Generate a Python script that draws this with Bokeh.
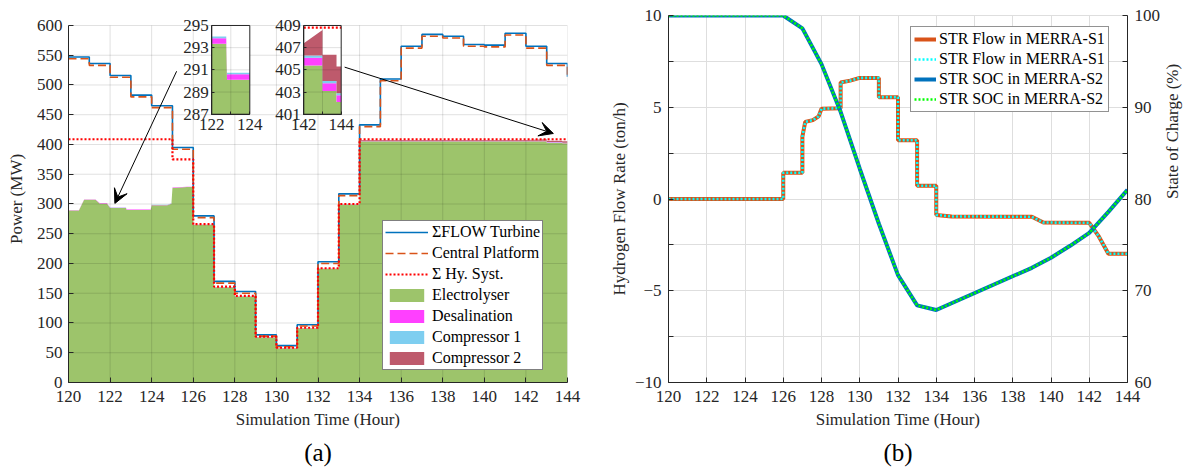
import math
import numpy as np
from bokeh.plotting import figure
from bokeh.models import (Range1d, LinearAxis, FixedTicker, Legend, LegendItem,
                          Arrow, VeeHead, Title)
from bokeh.layouts import row
from bokeh.embed import file_html
from bokeh.resources import INLINE

# ---------------- data : panel (a) ----------------
step_hours = [120, 121, 122, 123, 124, 125, 126, 127, 128, 129, 130, 131, 132,
              133, 134, 135, 136, 137, 138, 139, 140, 141, 142, 143, 144]
flow_turbine = [547, 536, 516, 483, 465, 395, 280, 170, 153, 80, 62, 97, 203,
                317, 433, 510, 565, 585, 582, 568, 567, 587, 565, 536, 514]
central_platform = [544, 533, 513, 480, 462, 392, 277, 167, 150, 78, 60, 95, 200,
                    314, 430, 507, 562, 582, 579, 565, 564, 584, 562, 533, 511]
hy_syst = [408.8, 408.8, 408.8, 408.8, 408.8, 375, 266, 161, 145.5, 77, 58.5, 92, 192,
           300, 408.8, 408.8, 408.8, 408.8, 408.8, 408.8, 408.8, 408.8, 408.8, 408.8, 408.8]

area_t = [120, 120.5, 120.75, 121.3, 121.5, 121.85, 122.0, 122.76, 122.8, 123.95,
          124.0, 124.75, 124.95, 125.0, 125.7, 126.0, 126.0, 127.0, 127.0, 128.0,
          128.0, 129.0, 129.0, 130.0, 130.0, 131.0, 131.0, 132.0, 132.0, 133.0,
          133.0, 134.0, 134.0, 142.0, 143.0, 143.0, 143.75, 143.75, 144.0]
electrolyser = [289, 289, 307, 307, 301, 301, 293.35, 293.35, 290.1, 290.1,
                298, 298, 300.5, 327, 328.5, 328.5, 265, 265, 160, 160,
                144.5, 144.5, 76, 76, 57.5, 57.5, 91, 91, 191, 191,
                299, 299, 405.4, 405.4, 405.4, 403.1, 403.1, 402.1, 402.1]
desalination = [0.5, 0.5, 0.5, 0.5, 0.5, 0.5, 0.5, 0.5, 0.5, 0.5,
                0.5, 0.5, 0.5, 0.5, 0.5, 0.5, 0.5, 0.5, 0.5, 0.5,
                0.5, 0.5, 0.5, 0.5, 0.5, 0.5, 0.5, 0.5, 0.5, 0.5,
                0.5, 0.5, 0.7, 0.7, 0.7, 0.7, 0.7, 0.6, 0.6]
compressor1 = [0.15, 0.15, 0.15, 0.15, 0.15, 0.15, 0.15, 0.15, 0.15, 0.15,
               0.15, 0.15, 0.15, 0.15, 0.15, 0.15, 0.15, 0.15, 0.15, 0.15,
               0.15, 0.15, 0.15, 0.15, 0.15, 0.15, 0.15, 0.15, 0.15, 0.15,
               0.15, 0.15, 0.2, 0.2, 0.2, 0.2, 0.2, 0.2, 0.2]
compressor2 = [0, 0, 0, 0, 0, 0, 0, 0, 0, 0,
               0, 0, 0, 0, 0, 0, 0, 0, 0, 0,
               0, 0, 0, 0, 0, 0, 0, 0, 0, 0,
               0, 0, 1.1, 1.1, 2.3, 2.35, 2.35, 2.4, 2.4]

x_ticks = [120, 122, 124, 126, 128, 130, 132, 134, 136, 138, 140, 142, 144]
power_ticks = [0, 50, 100, 150, 200, 250, 300, 350, 400, 450, 500, 550, 600]
inset1_xticks = [122, 124]
inset1_xminor = [123]
inset1_yticks = [287, 289, 291, 293, 295]
inset2_xticks = [142, 144]
inset2_xminor = [143]
inset2_yticks = [401, 403, 405, 407, 409]

# ---------------- data : panel (b) ----------------
flow_t = [120, 126, 126, 127, 127, 127.15, 127.55, 127.85, 128, 129,
          129, 129.5, 130, 131, 131, 132, 132, 133, 133, 134,
          134, 134.8, 139, 139.6, 142, 142.5, 143, 144]
str_flow = [0, 0, 1.43, 1.43, 3.4, 4.2, 4.3, 4.5, 4.92, 4.95,
            6.35, 6.45, 6.6, 6.6, 5.55, 5.55, 3.2, 3.2, 0.72, 0.72,
            -0.87, -0.95, -0.97, -1.28, -1.3, -2.04, -2.98, -2.98]
soc_t = [120, 126, 127, 128, 129, 130, 131, 132, 133, 134, 139, 140, 141, 142, 143, 144]
str_soc = [100, 100, 98.6, 94.7, 89.5, 83.3, 77.3, 71.7, 68.4, 67.9, 72.5, 73.6, 74.9, 76.3, 78.6, 81.0]
flow_ticks = [-10, -5, 0, 5, 10]
flow_minor = [-7.5, -2.5, 2.5, 7.5]
soc_ticks = [60, 70, 80, 90, 100]
soc_minor = [65, 75, 85, 95]

# ---------------- style ----------------
FONT = "serif"
INK = "#262626"
GRID = "#dedede"
C_TURB = "#0072BD"
C_PLAT = "#D95319"
C_HY = "#FF0000"
C_ELY = "#9DC46B"
C_DES = "#FF40FF"
C_C1 = "#7ECEF0"
C_C2 = "#BE5A6C"

# layout (page pixels; the page has no margin)
TOP, FRAME_H, BOTTOM = 15, 368, 88
A_L, A_W, A_R = 68, 499, 33
B_L, B_W, B_R = 68, 461, 65
A_YMAX_PX = 25           # pixel row of the 600 MW line in panel (a)


def style_axis(ax, tick_in=5, font=FONT):
    ax.axis_line_color = INK
    ax.axis_line_width = 1
    ax.major_tick_line_color = INK
    ax.minor_tick_line_color = INK
    ax.major_tick_in = tick_in
    ax.major_tick_out = 0
    ax.minor_tick_in = tick_in
    ax.minor_tick_out = 0
    ax.major_label_text_font = font
    ax.major_label_text_font_size = "17px"
    ax.major_label_text_color = INK
    ax.axis_label_text_font = font
    ax.axis_label_text_font_size = "17px"
    ax.axis_label_text_font_style = "normal"
    ax.axis_label_text_color = INK


def panel_tag(p, text):
    p.add_layout(Title(text=text, align="center", text_font=FONT, text_font_size="25px",
                       text_font_style="normal", text_color="black", standoff=11), "below")


# ================= panel (a) =================
ymax_a = power_ticks[-1] * FRAME_H / (FRAME_H - (A_YMAX_PX - TOP))
p1 = figure(width=A_L + A_W + A_R, height=TOP + FRAME_H + BOTTOM,
            min_border_left=A_L, min_border_right=A_R,
            min_border_top=TOP, min_border_bottom=BOTTOM,
            x_range=Range1d(120, 144), y_range=Range1d(0, ymax_a),
            output_backend="svg", toolbar_location=None)
p1.outline_line_color = None
p1.background_fill_color = "white"
p1.border_fill_color = "white"
p1.grid.visible = False
p1.xaxis.ticker = FixedTicker(ticks=x_ticks)
p1.yaxis.ticker = FixedTicker(ticks=power_ticks)
p1.yaxis.bounds = (power_ticks[0], power_ticks[-1])
p1.xaxis.axis_label = "Simulation Time (Hour)"
p1.yaxis.axis_label = "Power (MW)"
for ax in [*p1.xaxis, *p1.yaxis]:
    style_axis(ax)
p1.xaxis.major_label_standoff = 8
p1.yaxis.major_label_standoff = 6
p1.xaxis.axis_label_standoff = 5
p1.yaxis.axis_label_standoff = 8

ely_top = np.array(electrolyser, dtype=float)
des_top = ely_top + np.array(desalination)
c1_top = des_top + np.array(compressor1)
c2_top = c1_top + np.array(compressor2)

r_ely = p1.varea(x=area_t, y1=0, y2=ely_top, fill_color=C_ELY)
r_des = p1.varea(x=area_t, y1=ely_top, y2=des_top, fill_color=C_DES)
r_c1 = p1.varea(x=area_t, y1=des_top, y2=c1_top, fill_color=C_C1)
r_c2 = p1.varea(x=area_t, y1=c1_top, y2=c2_top, fill_color=C_C2)

# grid drawn above the areas (as in the original), limited to the 0-600 box
gxs = x_ticks[1:]
gys = power_ticks[1:]
p1.segment(x0=gxs, y0=[power_ticks[0]] * len(gxs), x1=gxs, y1=[power_ticks[-1]] * len(gxs),
           line_color="black", line_alpha=0.12, line_width=1)
p1.segment(x0=[x_ticks[0]] * len(gys), y0=gys, x1=[x_ticks[-1]] * len(gys), y1=gys,
           line_color="black", line_alpha=0.12, line_width=1)

r_turb = p1.step(x=step_hours, y=flow_turbine, mode="after", line_color=C_TURB, line_width=1.6)
r_plat = p1.step(x=step_hours, y=central_platform, mode="after", line_color=C_PLAT,
                 line_width=1.6, line_dash="8 4")
r_hy = p1.step(x=step_hours, y=hy_syst, mode="after", line_color=C_HY, line_width=2.2,
               line_dash="2 2")


# ---- insets (drawn through extra ranges mapped onto a sub-rectangle) ----
def inset_ranges(box, xlim, ylim):
    l, r, t, b = box
    sx = (r - l) / (xlim[1] - xlim[0])
    sy = (b - t) / (ylim[1] - ylim[0])
    x0 = xlim[0] - (l - A_L) / sx
    y1 = ylim[1] + (t - TOP) / sy
    return (Range1d(x0, x0 + A_W / sx), Range1d(y1 - FRAME_H / sy, y1))


insets = [
    dict(name="in1", box=(211.3, 249.3, 25.0, 114.0), xlim=(122, 124), ylim=(287, 295),
         xticks=inset1_xticks, xminor=inset1_xminor, yticks=inset1_yticks),
    dict(name="in2", box=(303.3, 340.7, 25.0, 114.0), xlim=(142, 144), ylim=(401, 409),
         xticks=inset2_xticks, xminor=inset2_xminor, yticks=inset2_yticks),
]
for ins in insets:
    xr, yr = inset_ranges(ins["box"], ins["xlim"], ins["ylim"])
    p1.extra_x_ranges[ins["name"] + "x"] = xr
    p1.extra_y_ranges[ins["name"] + "y"] = yr

for ins in insets:
    kx, ky = ins["name"] + "x", ins["name"] + "y"
    (x0, x1), (y0, y1) = ins["xlim"], ins["ylim"]
    p1.quad(left=[x0], right=[x1], bottom=[y0], top=[y1], fill_color="white",
            line_color=None, x_range_name=kx, y_range_name=ky)
    # clip stacked areas to the inset window
    keep = [i for i, t in enumerate(area_t) if x0 <= t <= x1 and c2_top[i] <= y1]
    tt = [area_t[i] for i in keep]
    cols = [[c[i] for i in keep] for c in (ely_top, des_top, c1_top, c2_top)]
    if tt[-1] < x1:
        tt.append(x1)
        for c in cols:
            c.append(c[-1])
    base = [[y0] * len(tt)] + cols[:-1]
    for lo, hi, col in zip(base, cols, (C_ELY, C_DES, C_C1, C_C2)):
        p1.varea(x=tt, y1=lo, y2=hi, fill_color=col, x_range_name=kx, y_range_name=ky)
    gx = ins["xminor"]
    gy = ins["yticks"][1:-1]
    p1.segment(x0=gx, y0=[y0] * len(gx), x1=gx, y1=[y1] * len(gx), line_color="black",
               line_alpha=0.12, line_width=1, x_range_name=kx, y_range_name=ky)
    p1.segment(x0=[x0] * len(gy), y0=gy, x1=[x1] * len(gy), y1=gy, line_color="black",
               line_alpha=0.12, line_width=1, x_range_name=kx, y_range_name=ky)
    hk = [i for i, h in enumerate(step_hours) if x0 <= h <= x1 and y0 <= hy_syst[i] <= y1]
    if len(hk) > 1:
        p1.step(x=[step_hours[i] for i in hk], y=[hy_syst[i] for i in hk], mode="after",
                line_color=C_HY, line_width=2.2, line_dash="2 2",
                x_range_name=kx, y_range_name=ky)
    p1.quad(left=[x0], right=[x1], bottom=[y0], top=[y1], fill_color=None,
            line_color=INK, line_width=1, x_range_name=kx, y_range_name=ky)
    axl = LinearAxis(x_range_name=kx, y_range_name=ky, fixed_location=x0, bounds=(y0, y1),
                     ticker=FixedTicker(ticks=ins["yticks"], minor_ticks=[]))
    style_axis(axl, tick_in=3)
    axl.major_label_standoff = 3
    p1.add_layout(axl, "left")
    axb = LinearAxis(x_range_name=kx, y_range_name=ky, fixed_location=y0, bounds=(x0, x1),
                     ticker=FixedTicker(ticks=ins["xticks"], minor_ticks=ins["xminor"]))
    style_axis(axb, tick_in=3)
    axb.major_label_standoff = 5
    p1.add_layout(axb, "below")

p1.add_layout(Arrow(end=VeeHead(size=14, fill_color="black", line_color="black"),
                    x_start=125.2, y_start=523, x_end=122.23, y_end=301,
                    line_color="black", line_width=1))
p1.add_layout(Arrow(end=VeeHead(size=14, fill_color="black", line_color="black"),
                    x_start=133.28, y_start=530, x_end=143.32, y_end=418.5,
                    line_color="black", line_width=1))

leg1 = Legend(items=[
    LegendItem(label="\u03a3FLOW Turbine", renderers=[r_turb]),
    LegendItem(label="Central Platform", renderers=[r_plat]),
    LegendItem(label="\u03a3 Hy. Syst.", renderers=[r_hy]),
    LegendItem(label="Electrolyser", renderers=[r_ely]),
    LegendItem(label="Desalination", renderers=[r_des]),
    LegendItem(label="Compressor 1", renderers=[r_c1]),
    LegendItem(label="Compressor 2", renderers=[r_c2]),
], location=(314, 12), margin=0, padding=2, spacing=3, glyph_width=43, glyph_height=16,
    label_height=16, label_standoff=4, label_text_font=FONT, label_text_font_size="16px",
    label_text_color="black", border_line_color="black", border_line_width=1,
    background_fill_alpha=1.0)
p1.add_layout(leg1)
panel_tag(p1, "(a)")

# ================= panel (b) =================
p2 = figure(width=B_L + B_W + B_R, height=TOP + FRAME_H + BOTTOM,
            min_border_left=B_L, min_border_right=B_R,
            min_border_top=TOP, min_border_bottom=BOTTOM,
            x_range=Range1d(120, 144), y_range=Range1d(-10, 10),
            output_backend="svg", toolbar_location=None)
p2.extra_y_ranges = {"soc": Range1d(60, 100)}
p2.outline_line_color = GRID
p2.background_fill_color = "white"
p2.border_fill_color = "white"
p2.xaxis.ticker = FixedTicker(ticks=x_ticks)
p2.yaxis.ticker = FixedTicker(ticks=flow_ticks, minor_ticks=flow_minor)
p2.xaxis.axis_label = "Simulation Time (Hour)"
p2.yaxis.axis_label = "Hydrogen Flow Rate (ton/h)"
ax_r = LinearAxis(y_range_name="soc", ticker=FixedTicker(ticks=soc_ticks, minor_ticks=soc_minor),
                  axis_label="State of Charge (%)")
p2.add_layout(ax_r, "right")
for ax in [*p2.xaxis, *p2.yaxis, ax_r]:
    style_axis(ax)
p2.xaxis.major_label_standoff = 8
p2.yaxis.major_label_standoff = 7
p2.yaxis.axis_label_standoff = 3
p2.xaxis.axis_label_standoff = 5
ax_r.major_label_standoff = 7
ax_r.axis_label_standoff = 9
try:
    ax_r.axis_label_orientation = math.pi / 2
except Exception:
    pass
p2.grid.grid_line_color = GRID
p2.ygrid.minor_grid_line_color = GRID

r_f1 = p2.line(x=flow_t, y=str_flow, line_color=C_PLAT, line_width=4)
r_f2 = p2.line(x=flow_t, y=str_flow, line_color="#00FFFF", line_width=2.6, line_dash="2 2")
r_s1 = p2.line(x=soc_t, y=str_soc, line_color=C_TURB, line_width=4, y_range_name="soc")
r_s2 = p2.line(x=soc_t, y=str_soc, line_color="#00FF00", line_width=2.6, line_dash="2 2",
               y_range_name="soc")

leg2 = Legend(items=[
    LegendItem(label="STR Flow in MERRA-S1", renderers=[r_f1]),
    LegendItem(label="STR Flow in MERRA-S1", renderers=[r_f2]),
    LegendItem(label="STR SOC in MERRA-S2", renderers=[r_s1]),
    LegendItem(label="STR SOC in MERRA-S2", renderers=[r_s2]),
], location=(242, 270), margin=0, padding=3, spacing=2,
    glyph_width=22, glyph_height=16,
    label_height=16, label_standoff=3, label_text_font=FONT, label_text_font_size="16px",
    label_text_color="black", border_line_color=INK, border_line_width=1,
    background_fill_alpha=1.0)
p2.add_layout(leg2)
panel_tag(p2, "(b)")

layout = row(p1, p2)
open("out.html", "w").write(file_html(layout, INLINE))
